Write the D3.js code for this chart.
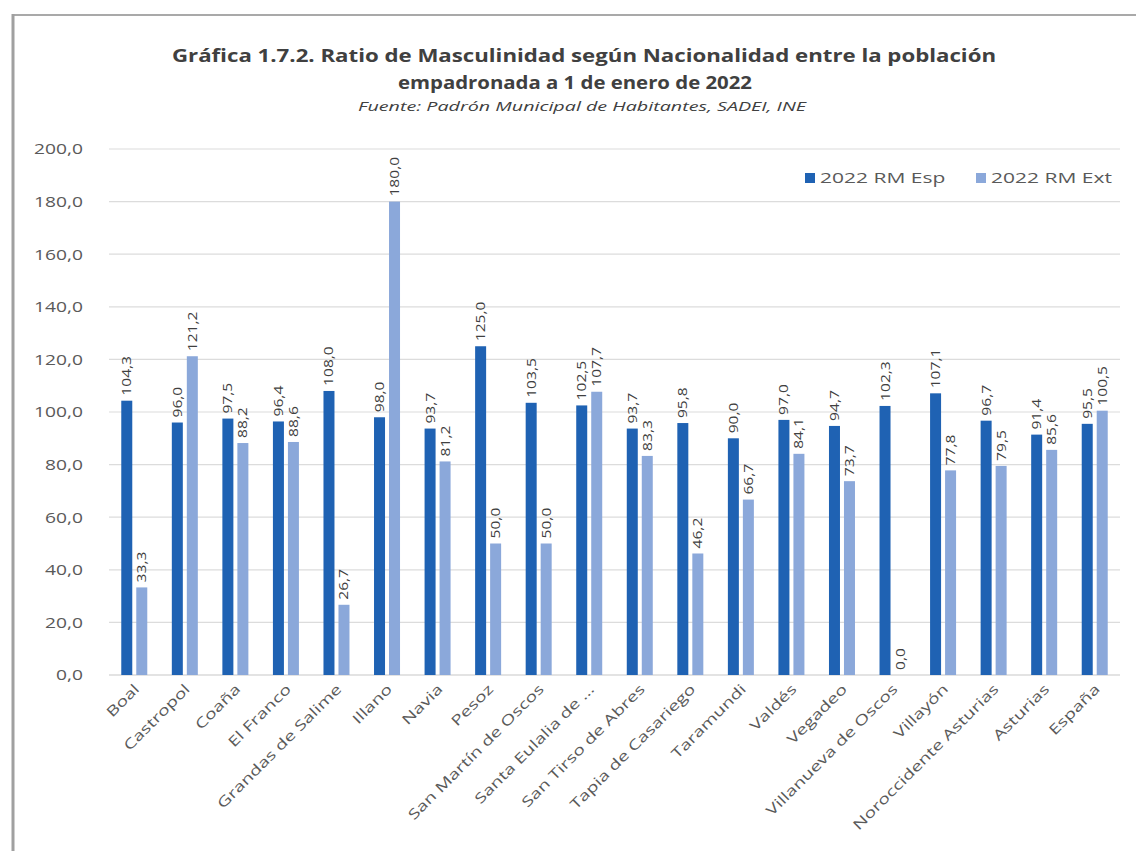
<!DOCTYPE html>
<html>
<head>
<meta charset="utf-8">
<script src="https://cdn.jsdelivr.net/npm/d3@7"></script>
<style>
  body { margin: 0; background: #fff; }
  svg { display: block; }
</style>
</head>
<body>
<div id="app"></div>
<script>
var categories = ["Boal", "Castropol", "Coaña", "El Franco", "Grandas de Salime", "Illano", "Navia", "Pesoz",
    "San Martín de Oscos", "Santa Eulalia de …", "San Tirso de Abres", "Tapia de Casariego", "Taramundi",
    "Valdés", "Vegadeo", "Villanueva de Oscos", "Villayón", "Noroccidente Asturias", "Asturias", "España"];

var rmEsp = [104.3, 96.0, 97.5, 96.4, 108.0, 98.0, 93.7, 125.0, 103.5, 102.5,
    93.7, 95.8, 90.0, 97.0, 94.7, 102.3, 107.1, 96.7, 91.4, 95.5];

var rmExt = [33.3, 121.2, 88.2, 88.6, 26.7, 180.0, 81.2, 50.0, 50.0, 107.7,
    83.3, 46.2, 66.7, 84.1, 73.7, 0.0, 77.8, 79.5, 85.6, 100.5];

var seriesNames = ["2022 RM Esp", "2022 RM Ext"];
var yTicks = [0, 20, 40, 60, 80, 100, 120, 140, 160, 180, 200];

var colors = ["#1F62B3", "#8BA8DA"];

var width = 1136,
    height = 851;

var svg = d3.select("#app").append("svg")
    .attr("width", width)
    .attr("height", height);

// the source picture has wide lettering, so texts get stretched along their run
function stretch(sel, k) {
    sel.each(function() {
        var len = this.getComputedTextLength();
        d3.select(this)
            .attr("textLength", len * k)
            .attr("lengthAdjust", "spacingAndGlyphs");
    });
}

// frame
svg.append("line")
    .attr("x1", 13).attr("x2", width).attr("y1", 15).attr("y2", 15)
    .style("stroke", "#a9a9a9").style("stroke-width", 2);
svg.append("line")
    .attr("x1", 13).attr("x2", 13).attr("y1", 14).attr("y2", height)
    .style("stroke", "#a0a0a0").style("stroke-width", 3);

// titles
var title = svg.append("g")
    .style("font-family", "'Open Sans', sans-serif")
    .style("fill", "#404040")
    .attr("text-anchor", "middle");

title.append("text")
    .attr("x", 584).attr("y", 62)
    .style("font-size", "18px").style("font-weight", "bold")
    .attr("textLength", 824).attr("lengthAdjust", "spacingAndGlyphs")
    .text("Gráfica 1.7.2. Ratio de Masculinidad según Nacionalidad entre la población");
title.append("text")
    .attr("x", 575).attr("y", 89)
    .style("font-size", "18px").style("font-weight", "bold")
    .attr("textLength", 354).attr("lengthAdjust", "spacingAndGlyphs")
    .text("empadronada a 1 de enero de 2022");
title.append("text")
    .attr("x", 582).attr("y", 111)
    .style("font-size", "13px").style("font-style", "italic")
    .attr("textLength", 448).attr("lengthAdjust", "spacingAndGlyphs")
    .text("Fuente: Padrón Municipal de Habitantes, SADEI, INE");

var x0 = d3.scaleBand()
    .domain(categories)
    .range([109, 1120]);

var y = d3.scaleLinear()
    .domain([0, 200])
    .range([675, 149]);

var fmt = function(v) { return d3.format(".1f")(v).replace(".", ","); };

// gridlines
svg.append("g")
    .selectAll("line")
    .data(yTicks)
    .enter().append("line")
    .attr("x1", 109).attr("x2", 1120)
    .attr("y1", function(d) { return y(d); })
    .attr("y2", function(d) { return y(d); })
    .style("stroke", function(d) { return d === 0 ? "#c8c8c8" : "#dcdcdc"; })
    .style("stroke-width", 1.2);

// y axis labels
var yAxis = svg.append("g")
    .attr("transform", "translate(83,0)")
    .call(d3.axisLeft(y).tickValues(yTicks).tickFormat(fmt).tickSize(0).tickPadding(0));
yAxis.select(".domain").remove();
yAxis.selectAll("text")
    .style("font-family", "'Open Sans', sans-serif")
    .style("font-size", "15px")
    .style("fill", "#595959")
    .call(stretch, 1.28);

var barW = 11, barGap = 4;

var series = [rmEsp, rmExt];

series.forEach(function(vals, s) {
    var offset = s === 0 ? -(barW + barGap / 2) : barGap / 2;
    var g = svg.append("g");
    g.selectAll("rect")
        .data(vals)
        .enter().append("rect")
        .attr("x", function(d, i) { return x0(categories[i]) + x0.bandwidth() / 2 + offset; })
        .attr("y", function(d) { return y(d); })
        .attr("width", barW)
        .attr("height", function(d) { return y(0) - y(d); })
        .style("fill", colors[s]);

    g.selectAll("text")
        .data(vals)
        .enter().append("text")
        .attr("transform", function(d, i) {
            var cx = x0(categories[i]) + x0.bandwidth() / 2 + offset + barW / 2 + 4.5;
            return "translate(" + cx + "," + (y(d) - 5) + ") rotate(-90)";
        })
        .style("font-family", "'Open Sans', sans-serif")
        .style("font-size", "12px")
        .style("fill", "#404040")
        .text(fmt)
        .call(stretch, 1.3);
});

// x axis labels
svg.append("g")
    .selectAll("text")
    .data(categories)
    .enter().append("text")
    .attr("transform", function(d) {
        return "translate(" + (x0(d) + x0.bandwidth() / 2 + 6) + ",690) rotate(-45)";
    })
    .attr("text-anchor", "end")
    .style("font-family", "'Open Sans', sans-serif")
    .style("font-size", "14px")
    .style("fill", "#595959")
    .text(function(d) { return d; })
    .call(stretch, 1.38);

// legend
var legend = svg.append("g")
    .style("font-family", "'Open Sans', sans-serif")
    .style("font-size", "15px")
    .style("fill", "#595959");

var legendX = [805, 976];
seriesNames.forEach(function(name, s) {
    legend.append("rect")
        .attr("x", legendX[s]).attr("y", 173)
        .attr("width", 10).attr("height", 10)
        .style("fill", colors[s]);
    legend.append("text")
        .attr("x", legendX[s] + 15).attr("y", 183)
        .text(name)
        .call(stretch, 1.4);
});
</script>
</body>
</html>
